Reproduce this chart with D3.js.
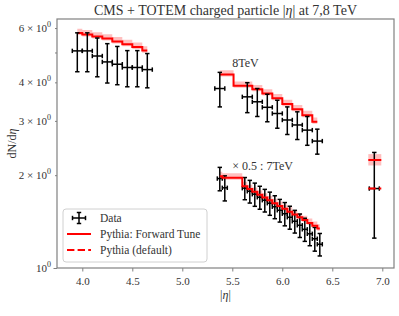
<!DOCTYPE html>
<html><head><meta charset="utf-8">
<script src="https://cdn.jsdelivr.net/npm/d3@7"></script>
<style>
html,body{margin:0;padding:0;background:#fff;}
svg{display:block;font-family:"Liberation Serif","Times New Roman",serif;}
</style></head>
<body>
<svg id="chart" width="399" height="316"></svg>
<script>
// ---- data ----
const etaCMS = [3.95, 4.05, 4.15, 4.25, 4.35, 4.45, 4.55, 4.65];
const dataCMS = [5.06, 5.06, 4.87, 4.66, 4.58, 4.47, 4.47, 4.40];
const errCMS = [0.73, 0.73, 0.70, 0.68, 0.65, 0.60, 0.60, 0.56];
const xerrCMS = 0.05;
const fwdCMS = [5.78, 5.72, 5.63, 5.55, 5.43, 5.32, 5.21, 5.07];

const eta8 = [5.375, 5.65, 5.75, 5.85, 5.95, 6.05, 6.15, 6.25, 6.35];
const data8 = [3.82, 3.59, 3.46, 3.32, 3.17, 3.02, 2.91, 2.80, 2.58];
const err8 = [0.49, 0.40, 0.36, 0.34, 0.33, 0.31, 0.30, 0.30, 0.24];
const xerr8 = 0.05;
const fwd8 = [4.24, 3.90, 3.80, 3.68, 3.55, 3.40, 3.27, 3.13, 2.98];

// 7 TeV, already multiplied by 0.5
const eta7 = [5.375, 5.425, 5.625, 5.675, 5.725, 5.775, 5.825, 5.875, 5.925, 5.975,
              6.025, 6.075, 6.125, 6.175, 6.225, 6.275, 6.325, 6.375];
const data7 = [1.95, 1.82, 1.815, 1.774, 1.735, 1.696, 1.659, 1.622, 1.580, 1.539,
               1.500, 1.461, 1.418, 1.376, 1.335, 1.291, 1.244, 1.194];
const err7 = [0.17, 0.17, 0.15, 0.15, 0.15, 0.145, 0.14, 0.14, 0.135, 0.13,
              0.13, 0.125, 0.12, 0.12, 0.115, 0.11, 0.11, 0.10];
const xerr7 = 0.025;
const eta7mc = [5.375, 5.425, 5.475, 5.525, 5.575, 5.625, 5.675, 5.725, 5.775, 5.825, 5.875,
                5.925, 5.975, 6.025, 6.075, 6.125, 6.175, 6.225, 6.275, 6.325, 6.375];
const fwd7 = [1.985, 1.963, 1.963, 1.963, 1.963, 1.842, 1.804, 1.766, 1.728, 1.692, 1.657,
              1.623, 1.590, 1.556, 1.523, 1.492, 1.461, 1.431, 1.400, 1.371, 1.342];

const etaFar = [6.92];
const dataFar = [1.81];
const errFar = [0.56];
const xerrFar = 0.05;
const farBinEdges = [6.86, 6.99];
const fwdFar = [2.24];
const defFar = [1.81];

const bandLo = 0.985, bandHi = 1.033;
const farBandLo = 0.96, farBandHi = 1.045;

const xTicks = [4.0, 4.5, 5.0, 5.5, 6.0, 6.5, 7.0];
const yMajor = [1];
const yMinor = [2, 3, 4, 5, 6];
const yMinorLabels = {2: "2", 3: "3", 4: "4", 6: "6"};

// ---- layout ----
const svg = d3.select("#chart");
const L = 57, R = 394, T = 19, B = 268;
const x = d3.scaleLinear().domain([3.747, 7.117]).range([L, R]);
const y = d3.scaleLog().domain([1, 6.42]).range([B, T]);
const textCol = "#333";
const spineCol = "#808080";

const g = svg.append("g");
const clip = svg.append("clipPath").attr("id", "clip").append("rect")
  .attr("x", L).attr("y", T).attr("width", R - L).attr("height", B - T);
const plot = g.append("g").attr("clip-path", "url(#clip)");

// bands & lines
const pts = (xs, vs) => xs.map((e, i) => [e, vs[i]]);
const area = (lo, hi) => d3.area().curve(d3.curveStep)
  .x(d => x(d[0])).y0(d => y(d[1] * lo)).y1(d => y(d[1] * hi));
const line = d3.line().curve(d3.curveStep).x(d => x(d[0])).y(d => y(d[1]));
const red = "#ff0000";

function band(xs, vs, lo, hi) {
  plot.append("path").datum(pts(xs, vs)).attr("d", area(lo, hi))
    .attr("fill", red).attr("fill-opacity", 0.25).attr("stroke", "none");
}
function step(xs, vs, dash) {
  plot.append("path").datum(pts(xs, vs)).attr("d", line)
    .attr("fill", "none").attr("stroke", red).attr("stroke-width", 2)
    .attr("stroke-dasharray", dash || null);
}
function errbars(xs, vs, es, xe) {
  const gg = plot.append("g").attr("stroke", "#000").attr("stroke-width", 1.5);
  xs.forEach((e, i) => {
    const cx = x(e), cy = y(vs[i]);
    const yt = y(vs[i] + es[i]), yb = y(vs[i] - es[i]);
    const xl = x(e - xe), xr = x(e + xe);
    gg.append("line").attr("x1", cx).attr("x2", cx).attr("y1", yt).attr("y2", yb);
    gg.append("line").attr("x1", cx - 2.2).attr("x2", cx + 2.2).attr("y1", yt).attr("y2", yt);
    gg.append("line").attr("x1", cx - 2.2).attr("x2", cx + 2.2).attr("y1", yb).attr("y2", yb);
    gg.append("line").attr("x1", xl).attr("x2", xr).attr("y1", cy).attr("y2", cy);
    gg.append("line").attr("x1", xl).attr("x2", xl).attr("y1", cy - 2.2).attr("y2", cy + 2.2);
    gg.append("line").attr("x1", xr).attr("x2", xr).attr("y1", cy - 2.2).attr("y2", cy + 2.2);
  });
}

band(etaCMS, fwdCMS, bandLo, bandHi);
band(eta8, fwd8, bandLo, bandHi);
band(eta7mc, fwd7, bandLo, bandHi);
band(farBinEdges, [fwdFar[0], fwdFar[0]], farBandLo, farBandHi);
step(etaCMS, fwdCMS);
step(eta8, fwd8);
errbars(etaCMS, dataCMS, errCMS, xerrCMS);
errbars(eta8, data8, err8, xerr8);
errbars(eta7, data7, err7, xerr7);
errbars(etaFar, dataFar, errFar, xerrFar);
step(eta7mc, fwd7);
step(farBinEdges, [fwdFar[0], fwdFar[0]]);
step(farBinEdges, [defFar[0], defFar[0]], "7.4,3.2");

// annotations
g.append("text").attr("x", x(5.5)).attr("y", y(4.48)).attr("font-size", 12)
  .attr("fill", textCol).text("8TeV");
g.append("text").attr("x", x(5.5)).attr("y", y(2.08)).attr("font-size", 12)
  .attr("fill", textCol).text("× 0.5 : 7TeV");

// axes
const xAxis = d3.axisBottom(x).tickValues(xTicks).tickSize(3.5).tickFormat(d3.format(".1f"));
const xa = g.append("g").attr("transform", `translate(0,${B})`).call(xAxis);
xa.select(".domain").remove();
xa.selectAll("line").attr("stroke", spineCol).attr("stroke-width", 1);
xa.selectAll("text").attr("font-family", "Liberation Serif, serif").attr("font-size", 11)
  .attr("fill", textCol).attr("dy", "0.95em");

const ya = g.append("g").attr("transform", `translate(${L},0)`)
  .call(d3.axisLeft(y).tickValues(yMajor).tickSize(3.5).tickFormat(""));
ya.select(".domain").remove();
ya.selectAll("line").attr("stroke", spineCol);
const ym = g.append("g").attr("transform", `translate(${L},0)`)
  .call(d3.axisLeft(y).tickValues(yMinor).tickSize(2).tickFormat(""));
ym.select(".domain").remove();
ym.selectAll("line").attr("stroke", spineCol);

function yLabel(v, prefix) {
  const t = g.append("text").attr("x", L - 6).attr("y", y(v) + 4)
    .attr("text-anchor", "end").attr("font-size", 11).attr("fill", textCol);
  t.append("tspan").text(prefix + "10");
  t.append("tspan").attr("dy", -5).attr("font-size", 8).text("0");
}
yMajor.forEach(v => yLabel(v, ""));
Object.keys(yMinorLabels).forEach(k => yLabel(+k, yMinorLabels[k] + " × "));

// frame
g.append("rect").attr("x", L).attr("y", T).attr("width", R - L).attr("height", B - T)
  .attr("fill", "none").attr("stroke", spineCol).attr("stroke-width", 1.2);

// titles
g.append("text").attr("x", (L + R) / 2).attr("y", 15).attr("text-anchor", "middle")
  .attr("font-size", 14).attr("fill", textCol)
  .html('CMS + TOTEM charged particle |<tspan font-style="italic">η</tspan>| at 7,8 TeV');
g.append("text").attr("x", (L + R) / 2).attr("y", 299).attr("text-anchor", "middle")
  .attr("font-size", 12).attr("fill", textCol)
  .html('|<tspan font-style="italic">η</tspan>|');
g.append("text").attr("transform", `translate(16,${(T + B) / 2}) rotate(-90)`)
  .attr("text-anchor", "middle").attr("font-size", 12).attr("fill", textCol)
  .html('dN/d<tspan font-style="italic">η</tspan>');

// legend
const lg = g.append("g");
lg.append("rect").attr("x", 63).attr("y", 209).attr("width", 144).attr("height", 53)
  .attr("rx", 3).attr("fill", "#fff").attr("fill-opacity", 0.8)
  .attr("stroke", "#d0d0d0").attr("stroke-width", 1);
const lgx0 = 67, lgx1 = 91, lgt = 100;
const ly = [218, 234, 250];
const sy = ly[0], sx = (lgx0 + lgx1) / 2;
const lsym = lg.append("g").attr("stroke", "#000").attr("stroke-width", 1.5);
lsym.append("line").attr("x1", sx).attr("x2", sx).attr("y1", sy - 5.5).attr("y2", sy + 5.5);
lsym.append("line").attr("x1", sx - 2.2).attr("x2", sx + 2.2).attr("y1", sy - 5.5).attr("y2", sy - 5.5);
lsym.append("line").attr("x1", sx - 2.2).attr("x2", sx + 2.2).attr("y1", sy + 5.5).attr("y2", sy + 5.5);
lsym.append("line").attr("x1", sx - 6.5).attr("x2", sx + 6.5).attr("y1", sy).attr("y2", sy);
lsym.append("line").attr("x1", sx - 6.5).attr("x2", sx - 6.5).attr("y1", sy - 2.2).attr("y2", sy + 2.2);
lsym.append("line").attr("x1", sx + 6.5).attr("x2", sx + 6.5).attr("y1", sy - 2.2).attr("y2", sy + 2.2);
lg.append("line").attr("x1", lgx0).attr("x2", lgx1).attr("y1", ly[1]).attr("y2", ly[1])
  .attr("stroke", red).attr("stroke-width", 2);
lg.append("line").attr("x1", lgx0).attr("x2", lgx1).attr("y1", ly[2]).attr("y2", ly[2])
  .attr("stroke", red).attr("stroke-width", 2).attr("stroke-dasharray", "7.4,3.2");
const labels = ["Data", "Pythia: Forward Tune", "Pythia (default)"];
labels.forEach((t, i) => lg.append("text").attr("x", lgt).attr("y", ly[i] + 4)
  .attr("font-size", 11.5).attr("fill", textCol).text(t));
</script>
</body></html>
